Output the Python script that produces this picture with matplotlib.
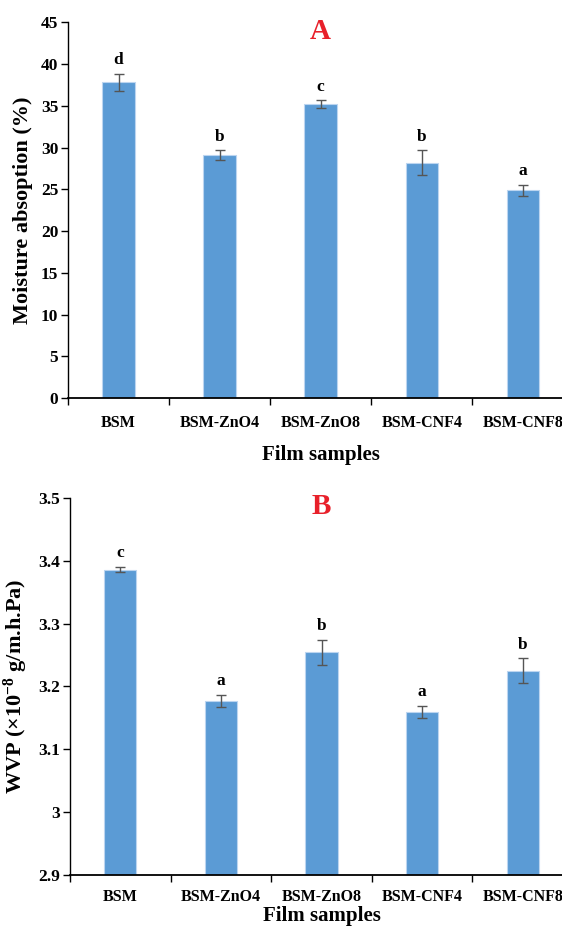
import matplotlib
matplotlib.use("Agg")
import matplotlib.pyplot as plt
import numpy as np

samples = ["BSM", "BSM-ZnO4", "BSM-ZnO8", "BSM-CNF4", "BSM-CNF8"]

moisture = [37.8, 29.1, 35.2, 28.2, 24.9]
moisture_err = [1.05, 0.55, 0.45, 1.5, 0.65]
moisture_letters = ["d", "b", "c", "b", "a"]

wvp = [3.386, 3.177, 3.254, 3.159, 3.225]
wvp_err = [0.004, 0.010, 0.020, 0.010, 0.020]
wvp_letters = ["c", "a", "b", "a", "b"]

plt.rcParams["font.family"] = ["Liberation Serif", "DejaVu Serif"]
plt.rcParams["font.weight"] = "bold"
plt.rcParams["mathtext.fontset"] = "custom"
plt.rcParams["mathtext.rm"] = "Liberation Serif:bold"
plt.rcParams["mathtext.bf"] = "Liberation Serif:bold"
plt.rcParams["mathtext.it"] = "Liberation Serif:bold"

bar_color = "#5b9bd5"
edge_color = "#bcd5f0"
err_color = "#555555"
title_red = "#e8202a"


def panel(ax, values, errs, letters, ylim, yticks, ticklabels, ylabel, tag,
          tickpad, xpad):
    x = np.arange(len(samples))
    ax.bar(x, np.array(values) - ylim[0], bottom=ylim[0], width=0.32,
           color=bar_color, edgecolor=edge_color, linewidth=0.8, zorder=2)
    ax.errorbar(x, values, yerr=errs, fmt="none", ecolor=err_color,
                elinewidth=1.0, capsize=3.5, capthick=1.0, zorder=3)
    for xi, v, e, lab in zip(x, values, errs, letters):
        ax.annotate(lab, (xi, v + e), xytext=(0, 4), textcoords="offset points",
                    ha="center", va="bottom", fontsize=12.5, fontweight="bold")

    ax.set_xlim(-0.5, len(samples) - 0.5)
    ax.set_ylim(*ylim)
    ax.set_yticks(yticks)
    ax.set_yticklabels(ticklabels, fontsize=12.5, fontweight="bold")
    ax.set_xticks(np.arange(len(samples) + 1) - 0.5)
    ax.set_xticklabels([])
    ax.set_xticks(x, minor=True)
    ax.set_xticklabels(samples, minor=True, fontsize=11.5, fontweight="bold")
    ax.tick_params(axis="x", which="major", direction="out", length=5, width=1)
    ax.tick_params(axis="x", which="minor", length=0, pad=tickpad)
    ax.tick_params(axis="y", direction="out", length=5, width=1, pad=2)

    for side in ["top", "right"]:
        ax.spines[side].set_visible(False)
    ax.spines["left"].set_linewidth(1.0)
    ax.spines["bottom"].set_linewidth(1.3)

    ax.set_ylabel(ylabel, fontsize=16, fontweight="bold", labelpad=6)
    ax.set_xlabel("Film samples", fontsize=15, fontweight="bold", labelpad=xpad)
    ax.text(0.5, 1.012, tag, transform=ax.transAxes, ha="center", va="top",
            color=title_red, fontsize=21, fontweight="bold")


fig = plt.figure(figsize=(5.62, 9.31), dpi=100)

ax1 = fig.add_axes([0.121, 0.5725, 0.899, 0.4035])
panel(ax1, moisture, moisture_err, moisture_letters, (0, 45),
      np.arange(0, 46, 5), [str(v) for v in range(0, 46, 5)],
      "Moisture absoption (%)", "A", 12, 10)

wvp_ticks = [2.9, 3.0, 3.1, 3.2, 3.3, 3.4, 3.5]
wvp_ticklabels = ["2.9", "3", "3.1", "3.2", "3.3", "3.4", "3.5"]
ax2 = fig.add_axes([0.1246, 0.0602, 0.895, 0.405])
panel(ax2, wvp, wvp_err, wvp_letters, (2.9, 3.5), wvp_ticks, wvp_ticklabels,
      r"WVP ($\times$10$^{-8}$ g/m.h.Pa)", "B", 10, 1)

fig.savefig("out.png", dpi=100)
